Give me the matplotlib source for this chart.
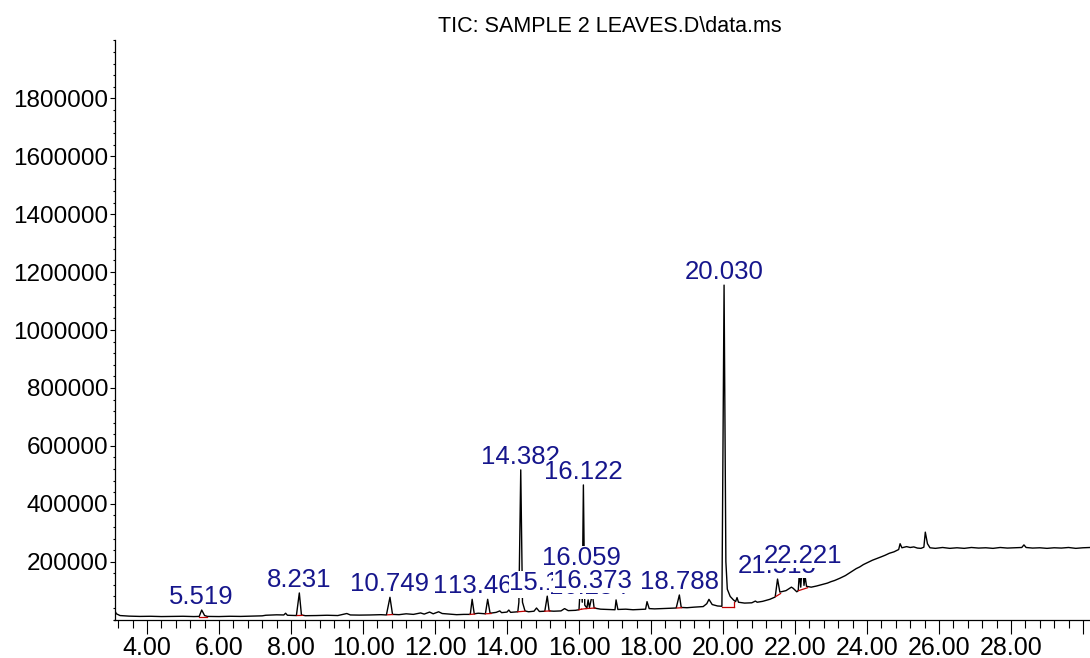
#!/usr/bin/env python3
"""Total ion chromatogram of the leaf extract (sample 2) with integrated peak labels."""
import numpy as np
import matplotlib
matplotlib.use("Agg")
import matplotlib.pyplot as plt
from matplotlib.ticker import FixedLocator, MultipleLocator

plt.rcParams["font.family"] = ["Liberation Sans", "DejaVu Sans"]

TITLE = "TIC: SAMPLE 2 LEAVES.D\\data.ms"

# trace points: retention time (min) / abundance
trace_t = [3.10, 3.15, 3.25, 3.50, 3.80, 4.10, 4.40, 4.70, 5.00, 5.30, 5.45, 5.60, 5.68,
           6.00, 6.30, 6.60, 6.90, 7.20, 7.30, 7.60, 7.80, 7.85, 7.90, 8.15, 8.29, 8.40,
           8.70, 9.00, 9.30, 9.55, 9.65, 9.90, 10.20, 10.50, 10.65, 10.82, 11.00, 11.20,
           11.40, 11.60, 11.70, 11.85, 11.95, 12.10, 12.20, 12.40, 12.60, 12.80, 12.98,
           13.09, 13.20, 13.40, 13.53, 13.70, 13.80, 13.85, 14.00, 14.05, 14.10, 14.30,
           14.33, 14.43, 14.50, 14.60, 14.75, 14.82, 14.90, 15.05, 15.17, 15.30, 15.50,
           15.60, 15.70, 15.90, 16.00, 16.09, 16.16, 16.22, 16.29, 16.42, 16.60, 16.80,
           17.00, 17.03, 17.08, 17.30, 17.50, 17.70, 17.85, 17.89, 17.95, 18.10, 18.30,
           18.50, 18.70, 18.84, 19.00, 19.20, 19.45, 19.55, 19.61, 19.70, 19.85, 19.97,
           20.08, 20.12, 20.20, 20.29, 20.35, 20.39, 20.43, 20.60, 20.80, 20.90, 20.95,
           21.10, 21.30, 21.45, 21.58, 21.75, 21.90, 21.95, 22.05, 22.09, 22.12, 22.16,
           22.18, 22.25, 22.28, 22.32, 22.45, 22.60, 22.75, 22.90, 23.00, 23.10,
           23.25, 23.40, 23.50, 23.60, 23.70, 23.80, 23.90, 24.00, 24.15, 24.30, 24.40,
           24.50, 24.62, 24.75, 24.88, 24.92, 24.97, 25.10, 25.20, 25.30, 25.40, 25.50,
           25.58, 25.62, 25.68, 25.75, 25.90, 26.10, 26.30, 26.50, 26.70, 26.90, 27.10,
           27.30, 27.50, 27.70, 27.90, 28.10, 28.30, 28.36, 28.42, 28.60, 28.80, 29.00,
           29.20, 29.40, 29.60, 29.80, 30.00, 30.20]
trace_y = [32000, 20000, 14000, 12000, 11000, 11500, 10500, 11000, 11500, 10500, 11000, 14000, 11000,
           10500, 11500, 11000, 12000, 13000, 15000, 16500, 16000, 22000, 15000, 14000, 16000, 13500,
           14000, 15000, 14000, 21000, 16000, 15500, 16000, 17000, 16000, 18000, 17000, 20000,
           18000, 23000, 19000, 26000, 20000, 27000, 21000, 19000, 17000, 18000, 18000,
           20000, 22000, 20000, 22000, 25000, 30000, 24000, 26000, 33000, 25000, 27000,
           60000, 60000, 30000, 27000, 29000, 40000, 28000, 29000, 30000, 29000, 30000,
           38000, 31000, 32000, 34000, 60000, 50000, 40000, 42000, 40000, 36000, 35000,
           34000, 68000, 35000, 36000, 34000, 35000, 36000, 62000, 38000, 37000, 38000,
           39000, 40000, 42000, 41000, 43000, 45000, 55000, 70000, 52000, 47000, 46000,
           200000, 105000, 80000, 68000, 62000, 76000, 60000, 57000, 58000, 64000, 60000,
           63000, 70000, 78000, 95000, 100000, 112000, 108000, 96000, 100000, 160000, 112000,
           150000, 118000, 150000, 115000, 112000, 116000, 121000, 126000, 131000, 135000,
           143000, 152000, 160000, 168000, 176000, 182000, 190000, 196000, 205000, 212000, 217000,
           222000, 229000, 234000, 242000, 262000, 248000, 252000, 249000, 251000, 247000, 246000,
           250000, 302000, 262000, 248000, 246000, 249000, 246000, 248000, 246000, 249000, 247000,
           248000, 246000, 249000, 247000, 248000, 249000, 258000, 249000, 247000, 248000, 246000,
           248000, 247000, 249000, 246000, 248000, 249000]

# labelled peaks: retention time shown above each peak and its apex abundance
peak_labels = ["5.519", "8.231", "10.749", "13.032", "13.463", "14.382", "15.118",
               "16.059", "16.122", "16.254", "16.373", "18.788", "20.030", "21.515", "22.221"]
peak_rt = [float(s) for s in peak_labels]
peak_height = [33000, 92000, 77000, 70000, 70000, 517000, 81000,
               168000, 465000, 68000, 88000, 85000, 1155000, 140000, 175000]

# integration baselines (start, end, y at start, y at end)
base_t0 = [5.44, 8.17, 10.68, 12.97, 13.40, 14.30, 15.05, 16.00, 16.07, 16.20, 18.72, 19.97, 20.30, 21.47, 22.10]
base_t1 = [5.66, 8.32, 10.82, 13.10, 13.56, 14.50, 15.20, 16.07, 16.20, 16.45, 18.85, 20.30, 20.30, 21.60, 22.35]
base_y0 = [10500, 14000, 16500, 18000, 20000, 27000, 29000, 34000, 36000, 38000, 40000, 45000, 45000, 80000, 100000]
base_y1 = [10500, 14500, 17500, 19000, 21000, 29000, 30000, 36000, 38000, 40000, 41000, 45000, 62000, 90000, 110000]

x_major = [4, 6, 8, 10, 12, 14, 16, 18, 20, 22, 24, 26, 28, 30]
x_labels = ["4.00", "6.00", "8.00", "10.00", "12.00", "14.00", "16.00", "18.00",
            "20.00", "22.00", "24.00", "26.00", "28.00", ""]
y_major = [200000, 400000, 600000, 800000, 1000000, 1200000, 1400000, 1600000, 1800000]

LABEL_COLOR = "#16168c"

fig = plt.figure(figsize=(10.9, 6.58), dpi=100)
ax = fig.add_axes([114.5 / 1090, 38.4 / 658, 975.5 / 1090, 579.2 / 658])

# merge apex points of labelled peaks into the trace
t = np.array(trace_t + peak_rt)
y = np.array(trace_y + peak_height)
order = np.argsort(t, kind="stable")
ax.plot(t[order], y[order], color="black", lw=1.0, zorder=2)

for a, b, c, d in zip(base_t0, base_t1, base_y0, base_y1):
    ax.plot([a, b], [c, d], color="#c00000", lw=0.9, zorder=3)

# peak labels sit on white boxes; later ones hide earlier ones
for i, (lab, rt, h) in enumerate(zip(peak_labels, peak_rt, peak_height)):
    ax.annotate(lab, xy=(rt, h), xytext=(0, 4.5), textcoords="offset points",
                ha="center", va="baseline", fontsize=18.5, color=LABEL_COLOR,
                bbox=dict(facecolor="white", edgecolor="none", pad=0),
                zorder=10 + i, annotation_clip=False)

ax.set_xlim(3.097, 30.195)
ax.set_ylim(0, 2000000)
ax.xaxis.set_major_locator(FixedLocator(x_major))
ax.set_xticklabels(x_labels)
ax.xaxis.set_minor_locator(MultipleLocator(0.4))
ax.yaxis.set_major_locator(FixedLocator(y_major))
ax.set_yticklabels([str(v) for v in y_major])
ax.yaxis.set_minor_locator(MultipleLocator(40000))

for side in ("top", "right"):
    ax.spines[side].set_visible(False)
for side in ("left", "bottom"):
    ax.spines[side].set_linewidth(0.9)

ax.tick_params(axis="x", which="major", length=10, width=0.8, pad=1.5, labelsize=18)
ax.tick_params(axis="x", which="minor", length=5.8, width=0.8)
ax.tick_params(axis="y", which="major", length=3.6, width=0.8, pad=1, labelsize=17.5)
ax.tick_params(axis="y", which="minor", length=1.6, width=0.8)

fig.text(609.5 / 1090, 1 - 31.5 / 658, TITLE, ha="center", va="baseline", fontsize=15.5)

fig.savefig("out.png", dpi=100)
plt.close(fig)
